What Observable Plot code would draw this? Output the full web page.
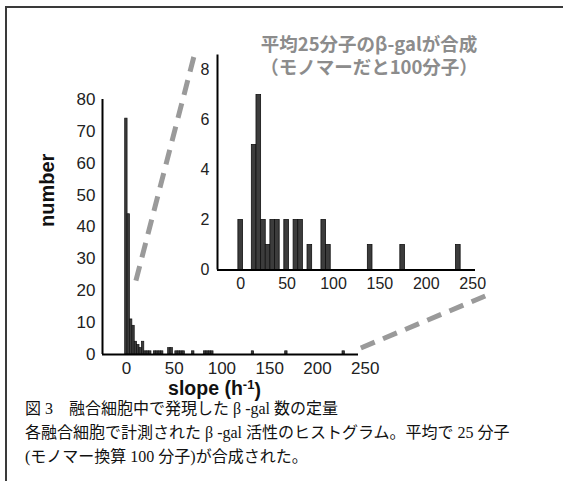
<!DOCTYPE html>
<html>
<head>
<meta charset="utf-8">
<script src="https://cdn.jsdelivr.net/npm/d3@7"></script>
<script src="https://cdn.jsdelivr.net/npm/@observablehq/plot@0.6"></script>
<style>
html, body { margin: 0; padding: 0; background: #fff; }
#fig { position: relative; width: 563px; height: 481px; overflow: hidden; background: #fff; }
#frame { position: absolute; left: 5px; top: 6px; width: 600px; height: 500px;
  border-top: 2px solid #3a3a3a; border-left: 2px solid #3a3a3a; }
.layer { position: absolute; left: 0; top: 0; }
#insetTitle { position: absolute; left: 219px; top: 32px; width: 300px; text-align: center;
  font-family: "Noto Sans CJK JP", sans-serif; font-weight: 700; font-size: 18.5px; line-height: 23px; color: #8c8c8c; }
#caption { position: absolute; left: 25px; top: 397px; font-family: "Liberation Serif", "Noto Sans CJK JP", serif;
  font-size: 16px; line-height: 24px; color: #111; white-space: nowrap; }
</style>
</head>
<body>
<div id="fig">
  <div id="frame"></div>
</div>
<script>
// ---- data: main histogram (all cells) ----
const mainCenters = [0, 2.5, 5, 7.5, 10, 12.5, 15, 17.5, 20, 22.5, 25, 30, 32.5, 35, 37.5, 45, 47.5, 52.5, 55, 57.5, 60, 70, 82.5, 85, 87.5, 90, 132.5, 167.5, 227.5];
const mainCounts  = [74, 44, 11, 9, 4, 3, 2, 4, 1, 1, 1, 1, 1, 1, 1, 2, 2, 1, 1, 1, 1, 1, 1, 1, 1, 1, 1, 1, 1];
const mainBinWidth = 2.5;
const mainXTicks = [0, 50, 100, 150, 200, 250];
const mainYTicks = [0, 10, 20, 30, 40, 50, 60, 70, 80];
const mainXDomain = [-25, 243];
const mainYDomain = [0, 80];

// ---- data: inset histogram ----
const insetCenters = [0, 14.5, 19.5, 24.5, 29.5, 34.5, 39.5, 49.5, 59.5, 64.5, 74.5, 89.5, 94.5, 139.5, 174.5, 234.5];
const insetCounts  = [2, 5, 7, 2, 1, 2, 2, 2, 2, 2, 1, 2, 1, 1, 1, 1];
const insetBinWidth = 5;
const insetXTicks = [0, 50, 100, 150, 200, 250];
const insetYTicks = [0, 2, 4, 6, 8];
const insetXDomain = [-25, 253];
const insetYDomain = [0, 8.6];

// ---- texts ----
const xLabel = "slope (h-1)";
const yLabel = "number";
const insetTitleLines = ["平均25分子のβ-galが合成", "（モノマーだと100分子）"];
const captionLines = [
  "図 3　融合細胞中で発現した β -gal 数の定量",
  "各融合細胞で計測された β -gal 活性のヒストグラム。平均で 25 分子",
  "(モノマー換算 100 分子)が合成された。"
];

// ---- zoom connectors (anchors in each panel's data space) ----
const connectors = [
  { from: { panel: "inset", x: -50, y: 8.5 }, to: { panel: "main", x: 8.5, y: 20.7 } },
  { from: { panel: "main", x: 246, y: 1.9 }, to: { panel: "inset", x: 264, y: -1.06 } }
];

const fig = document.getElementById("fig");
const barFill = "#3c3c3c", barStroke = "#111";
const baseStyle = { fontFamily: "Liberation Sans, Arial, sans-serif", fontSize: "17px", background: "transparent", overflow: "visible", color: "#222" };

const mainData = mainCenters.map((c, i) => ({ x1: c - mainBinWidth / 2, x2: c + mainBinWidth / 2, y: mainCounts[i] }));
const insetData = insetCenters.map((c, i) => ({ x1: c - insetBinWidth / 2, x2: c + insetBinWidth / 2, y: insetCounts[i] }));

const main = Plot.plot({
  width: 563, height: 400,
  marginLeft: 102, marginRight: 205, marginTop: 99, marginBottom: 46,
  x: { domain: mainXDomain },
  y: { domain: mainYDomain },
  style: baseStyle,
  marks: [
    Plot.rectY(mainData, { x1: "x1", x2: "x2", y: "y", fill: barFill, stroke: barStroke, strokeWidth: 0.7 }),
    Plot.ruleY([mainYDomain[0]], { stroke: "#000", strokeWidth: 2 }),
    Plot.ruleX([mainXDomain[0]], { stroke: "#000", strokeWidth: 2 }),
    Plot.axisX(mainXTicks, { tickSize: 0, tickPadding: 7, label: null, fill: "#222" }),
    Plot.axisY(mainYTicks, { tickSize: 0, tickPadding: 7, label: null, fill: "#222" }),
    Plot.text([yLabel], { frameAnchor: "left", dx: -55, rotate: -90, fontSize: 20, fontWeight: "bold", fill: "#111", text: d => d }),
    Plot.text([xLabel], { frameAnchor: "bottom", dx: -16, dy: 40, fontSize: 19.5, fontWeight: "bold", fill: "#111", text: d => d })
  ]
});
main.classList.add("layer");
fig.appendChild(main);

// superscript for the x label
d3.select(main).selectAll("text").filter(function () { return this.textContent === xLabel; })
  .each(function () {
    const t = d3.select(this);
    t.text(null);
    t.append("tspan").text("slope (h");
    t.append("tspan").attr("dy", "-0.45em").attr("font-size", "13").text("-1");
    t.append("tspan").attr("dy", "0.45em").text(")");
  });

const inset = Plot.plot({
  width: 563, height: 400,
  marginLeft: 217, marginRight: 88, marginTop: 54.5, marginBottom: 130.5,
  x: { domain: insetXDomain },
  y: { domain: insetYDomain },
  style: { ...baseStyle, fontSize: "16px" },
  marks: [
    Plot.rectY(insetData, { x1: "x1", x2: "x2", y: "y", fill: barFill, stroke: barStroke, strokeWidth: 0.8 }),
    Plot.ruleY([insetYDomain[0]], { stroke: "#000", strokeWidth: 2 }),
    Plot.ruleX([insetXDomain[0]], { stroke: "#000", strokeWidth: 2 }),
    Plot.axisX(insetXTicks, { tickSize: 0, tickPadding: 8, label: null, fill: "#222" }),
    Plot.axisY(insetYTicks, { tickSize: 0, tickPadding: 8, label: null, fill: "#222" })
  ]
});
inset.classList.add("layer");
fig.appendChild(inset);

// connectors drawn through both panels' scales
const panels = { main, inset };
const px = (a) => [panels[a.panel].scale("x").apply(a.x), panels[a.panel].scale("y").apply(a.y)];
const over = d3.select(fig).append("svg").attr("class", "layer").attr("width", 563).attr("height", 400)
  .style("pointer-events", "none");
over.selectAll("line").data(connectors).join("line")
  .attr("x1", d => px(d.from)[0]).attr("y1", d => px(d.from)[1])
  .attr("x2", d => px(d.to)[0]).attr("y2", d => px(d.to)[1])
  .attr("stroke", "#9a9a9a").attr("stroke-width", 5).attr("stroke-dasharray", "15 9");

// inset title
const it = document.createElement("div");
it.id = "insetTitle";
it.innerHTML = insetTitleLines.map(s => `<div>${s}</div>`).join("");
fig.appendChild(it);

// caption
const cap = document.createElement("div");
cap.id = "caption";
cap.innerHTML = captionLines.map(s => `<div>${s}</div>`).join("");
fig.appendChild(cap);
</script>
</body>
</html>
